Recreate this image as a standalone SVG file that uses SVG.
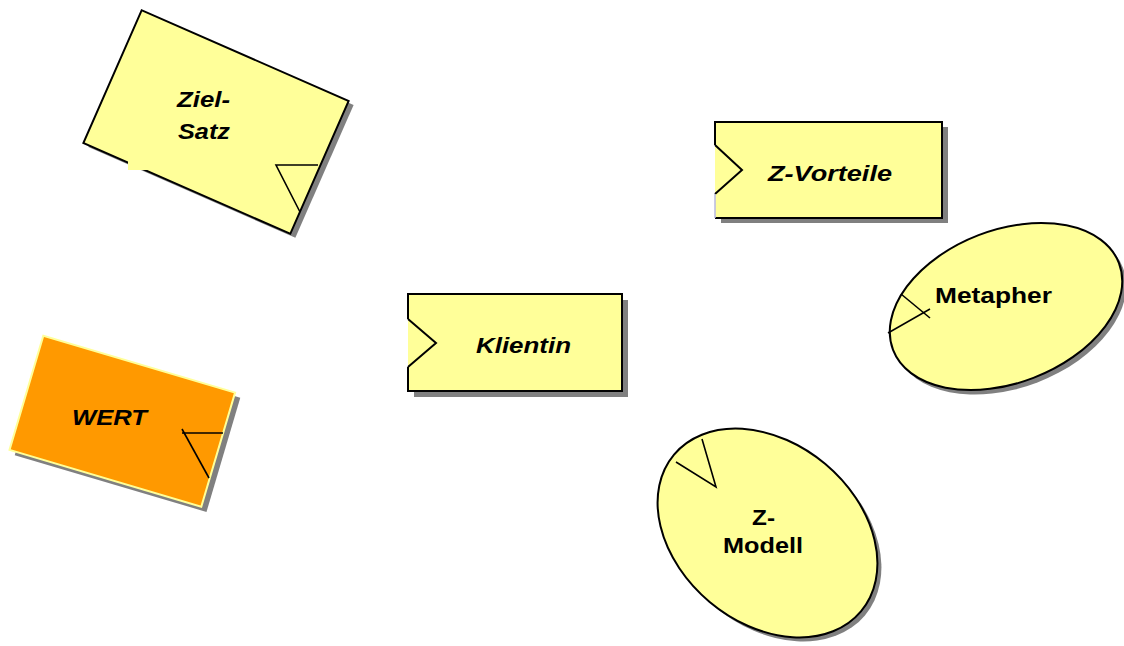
<svg xmlns="http://www.w3.org/2000/svg" width="1124" height="646" viewBox="0 0 1124 646">
  <style>
    .shadow { fill: #808080; stroke: none; }
    .card { fill: #FFFF99; stroke: #000000; stroke-width: 2; }
    .card-open { fill: #FFFF99; stroke: none; }
    .edge { fill: none; stroke: #000000; stroke-width: 2; stroke-linejoin: miter; }
    .mark { fill: none; stroke: #000000; stroke-width: 1.6; }
    .value { fill: #FF9900; stroke: #FFFF99; stroke-width: 2; }
    .label { font-family: "Liberation Sans", Arial, Helvetica, sans-serif; font-size: 22.5px; font-weight: bold; fill: #000000; }
    .it { font-style: italic; }
  </style>

  <rect width="1124" height="646" fill="#FFFFFF"/>

  <!-- Ziel-Satz: tilted card with a corner flag -->
  <g id="ziel-satz">
    <rect class="shadow" x="-113" y="-72.5" width="226" height="145" transform="translate(221 126) rotate(23.7)"/>
    <rect class="card" x="-113" y="-72.5" width="226" height="145" transform="translate(216 122) rotate(23.7)"/>
    <rect x="128" y="158" width="22" height="12" fill="#FFFF99"/>
    <polyline class="mark" points="318,165 276,165 300,212"/>
    <text class="label it" x="177" y="107" textLength="53" lengthAdjust="spacingAndGlyphs">Ziel-</text>
    <text class="label it" x="178" y="139" textLength="52" lengthAdjust="spacingAndGlyphs">Satz</text>
  </g>

  <!-- WERT: orange value card -->
  <g id="wert">
    <rect class="shadow" x="-100" y="-59.5" width="200" height="119" transform="translate(127.5 426.5) rotate(16.5)"/>
    <rect class="value" x="-100" y="-59.5" width="200" height="119" transform="translate(122.3 421.3) rotate(16.5)"/>
    <polyline class="mark" points="223,433 182,433"/>
    <line class="mark" x1="182" y1="429" x2="209" y2="478"/>
    <text class="label it" x="72" y="425" textLength="75" lengthAdjust="spacingAndGlyphs">WERT</text>
  </g>

  <!-- Z-Vorteile: box with an inbound notch -->
  <g id="z-vorteile">
    <rect class="shadow" x="721" y="127" width="227" height="96"/>
    <rect class="card-open" x="715" y="122" width="227" height="96"/>
    <path class="edge" d="M715,145 L715,122 L942,122 L942,218 L715,218"/>
    <polyline class="edge" points="715,145 742,170 715,194"/>
    <line x1="715" y1="194" x2="715" y2="218" stroke="#B8B8E0" stroke-width="1.5"/>
    <text class="label it" x="768" y="181" textLength="124" lengthAdjust="spacingAndGlyphs">Z-Vorteile</text>
  </g>

  <!-- Klientin: box with an inbound notch -->
  <g id="klientin">
    <rect class="shadow" x="414" y="300" width="214" height="97"/>
    <rect class="card-open" x="408" y="294" width="214" height="97"/>
    <path class="edge" d="M408,319 L408,294 L622,294 L622,391 L408,391 L408,367"/>
    <polyline class="edge" points="408,319 436,343 408,367"/>
    <text class="label it" x="476" y="353" textLength="95" lengthAdjust="spacingAndGlyphs">Klientin</text>
  </g>

  <!-- Metapher: tilted ellipse -->
  <g id="metapher">
    <ellipse class="shadow" cx="0" cy="0" rx="121" ry="76.5" transform="translate(1010 311) rotate(-21)"/>
    <ellipse class="card" cx="0" cy="0" rx="121" ry="76.5" transform="translate(1006 306.5) rotate(-21)"/>
    <line class="mark" x1="901" y1="294" x2="930" y2="318"/>
    <line class="mark" x1="888" y1="333" x2="930" y2="309"/>
    <text class="label" x="935" y="303" textLength="117" lengthAdjust="spacingAndGlyphs">Metapher</text>
  </g>

  <!-- Z-Modell: tilted ellipse -->
  <g id="z-modell">
    <ellipse class="shadow" cx="0" cy="0" rx="122" ry="90" transform="translate(771.5 537) rotate(40)"/>
    <ellipse class="card" cx="0" cy="0" rx="122" ry="90" transform="translate(767.5 533) rotate(40)"/>
    <polyline class="mark" points="702,439 716,487 676,462"/>
    <text class="label" x="752" y="525" textLength="23" lengthAdjust="spacingAndGlyphs">Z-</text>
    <text class="label" x="723" y="553" textLength="80" lengthAdjust="spacingAndGlyphs">Modell</text>
  </g>

  <!-- no connectors between the nodes -->
  <g id="connectors"/>
</svg>
